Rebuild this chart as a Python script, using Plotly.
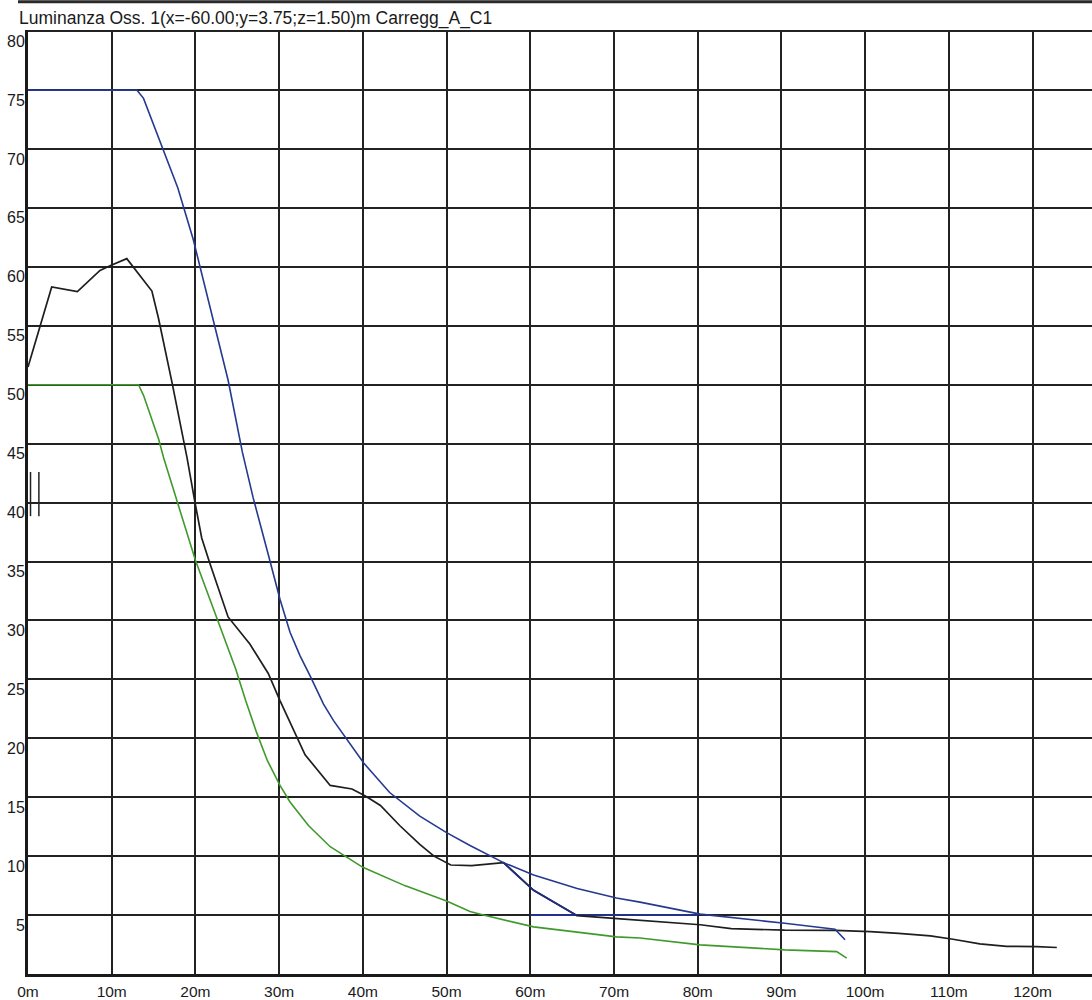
import plotly.graph_objects as go

# ---- data ----
title_text = "Luminanza Oss. 1(x=-60.00;y=3.75;z=1.50)m Carregg_A_C1"

x_ticks = [0, 10, 20, 30, 40, 50, 60, 70, 80, 90, 100, 110, 120]
x_tick_labels = ["0m", "10m", "20m", "30m", "40m", "50m", "60m", "70m", "80m", "90m", "100m", "110m", "120m"]
y_ticks = [5, 10, 15, 20, 25, 30, 35, 40, 45, 50, 55, 60, 65, 70, 75, 80]
y_tick_labels = ["5", "10", "15", "20", "25", "30", "35", "40", "45", "50", "55", "60", "65", "70", "75", "80"]

# upper reference curve (blue)
blue_x = [0, 13.0, 13.8, 16.0, 17.9, 19.75, 22.1, 23.9, 25.6, 26.9, 28.7, 30.1, 31.3, 32.5, 33.7,
          35.3, 36.5, 37.7, 40.1, 43.2, 46.8, 50.0, 52.8, 56.8, 60.4, 65.6, 70.3, 73.1, 80.3, 90.4,
          96.4, 97.6]
blue_y = [75.0, 75.0, 74.3, 70.3, 66.7, 62.3, 55.6, 50.4, 44.3, 40.4, 35.6, 31.8, 29.0, 27.0, 25.3,
          22.9, 21.5, 20.3, 17.9, 15.4, 13.4, 12.0, 10.9, 9.45, 8.4, 7.25, 6.45, 6.1, 5.08, 4.3,
          3.8, 2.9]

# lower reference curve (green)
green_x = [0, 13.2, 13.8, 15.6, 16.2, 18.2, 20.0, 22.4, 24.8, 26.0, 27.3, 28.6, 30.1, 31.3, 33.5,
           36.1, 40.0, 45.0, 50.0, 52.8, 54.4, 60.4, 70.3, 73.1, 80.3, 90.4, 96.6, 97.8]
green_y = [50.0, 50.0, 49.1, 45.4, 43.8, 39.3, 35.1, 30.5, 25.9, 23.2, 20.5, 18.1, 16.0, 14.6, 12.6,
           10.8, 9.05, 7.5, 6.2, 5.3, 5.0, 4.0, 3.15, 3.05, 2.47, 2.05, 1.9, 1.35]

# computed luminance (black)
black_x = [0, 2.83, 5.9, 8.6, 9.8, 11.8, 14.8, 15.6, 17.2, 18.4, 19.0, 19.95, 20.75, 21.7, 23.9,
           26.5, 28.7, 30.1, 32.1, 33.1, 36.1, 38.7, 40.3, 42.1, 44.4, 46.8, 48.5, 50.5, 53.0, 55.0,
           56.8, 60.4, 65.6, 70.0, 75.0, 80.3, 84.0, 90.4, 96.4, 100.6, 104.0, 107.8, 110.5, 113.7,
           116.9, 120.5, 122.9]
black_y = [51.5, 58.3, 57.9, 59.7, 60.1, 60.7, 57.95, 55.6, 50.2, 46.0, 43.8, 40.0, 37.0, 34.9, 30.3,
           28.0, 25.5, 23.2, 20.15, 18.6, 16.0, 15.7, 15.1, 14.3, 12.6, 11.0, 10.0, 9.25, 9.2, 9.3,
           9.45, 7.1, 4.95, 4.72, 4.45, 4.18, 3.85, 3.72, 3.7, 3.6, 3.45, 3.23, 2.95, 2.55,
           2.35, 2.33, 2.25]

# transition to interior zone (dark blue)
trans_x = [56.8, 60.4, 65.6]
trans_y = [9.45, 7.1, 4.95]
interior_x = [60.0, 80.0]
interior_y = [5.0, 5.0]

# axis-break marker near y=40
break_x = [0.3, 1.3]
break_y = [38.85, 42.6]

fig = go.Figure()
fig.add_trace(go.Scatter(x=interior_x, y=interior_y, mode="lines",
                         line=dict(color="#23318a", width=2), hoverinfo="skip"))
fig.add_trace(go.Scatter(x=green_x, y=green_y, mode="lines",
                         line=dict(color="#3f9a2c", width=1.6), name="green"))
fig.add_trace(go.Scatter(x=black_x, y=black_y, mode="lines",
                         line=dict(color="#1e1e1e", width=1.7), name="black"))
fig.add_trace(go.Scatter(x=blue_x, y=blue_y, mode="lines",
                         line=dict(color="#25398f", width=1.6), name="blue"))
fig.add_trace(go.Scatter(x=trans_x, y=trans_y, mode="lines",
                         line=dict(color="#1f2c80", width=1.8), name="trans"))

for bx in break_x:
    fig.add_shape(type="line", xref="x", yref="y", x0=bx, x1=bx, y0=break_y[0], y1=break_y[1],
                  line=dict(color="#222222", width=1.5))

# top rule line above the title
fig.add_shape(type="line", xref="paper", yref="paper", x0=-10 / 1064, x1=1.0,
              y0=1 + 28.5 / 949, y1=1 + 28.5 / 949, line=dict(color="#2a2a2a", width=3))

for v, t in zip(y_ticks, y_tick_labels):
    fig.add_annotation(x=0, xref="paper", xanchor="right", y=v, yref="y", yanchor="middle",
                       yshift=-10, text=t, showarrow=False, xshift=-1,
                       font=dict(family="Liberation Sans", size=16, color="#1a1a1a"))

fig.add_annotation(x=-11 / 1064, xref="paper", xanchor="left", y=1 + 12 / 949, yref="paper",
                   yanchor="middle", text=title_text, showarrow=False,
                   font=dict(family="Liberation Sans", size=17.5, color="#1a1a1a"))

fig.update_layout(
    width=1092, height=1000,
    margin=dict(l=28, r=0, t=30, b=21),
    paper_bgcolor="white", plot_bgcolor="white",
    showlegend=False,
    font=dict(family="Liberation Sans", size=15, color="#1a1a1a"),
)
fig.update_xaxes(range=[0, 127.1], tickvals=x_ticks, ticktext=x_tick_labels,
                 showgrid=True, gridcolor="#222222", gridwidth=2.2,
                 showline=True, linecolor="#1a1a1a", linewidth=3, zeroline=False,
                 ticks="", ticklabelstandoff=1,
                 tickfont=dict(family="Liberation Sans", size=15.5, color="#1a1a1a"))
fig.update_yaxes(range=[0, 80.1], tickvals=y_ticks, showticklabels=False,
                 showgrid=True, gridcolor="#222222", gridwidth=2.2,
                 showline=True, linecolor="#1a1a1a", linewidth=3, zeroline=False, ticks="")

fig.write_html("out.html")
